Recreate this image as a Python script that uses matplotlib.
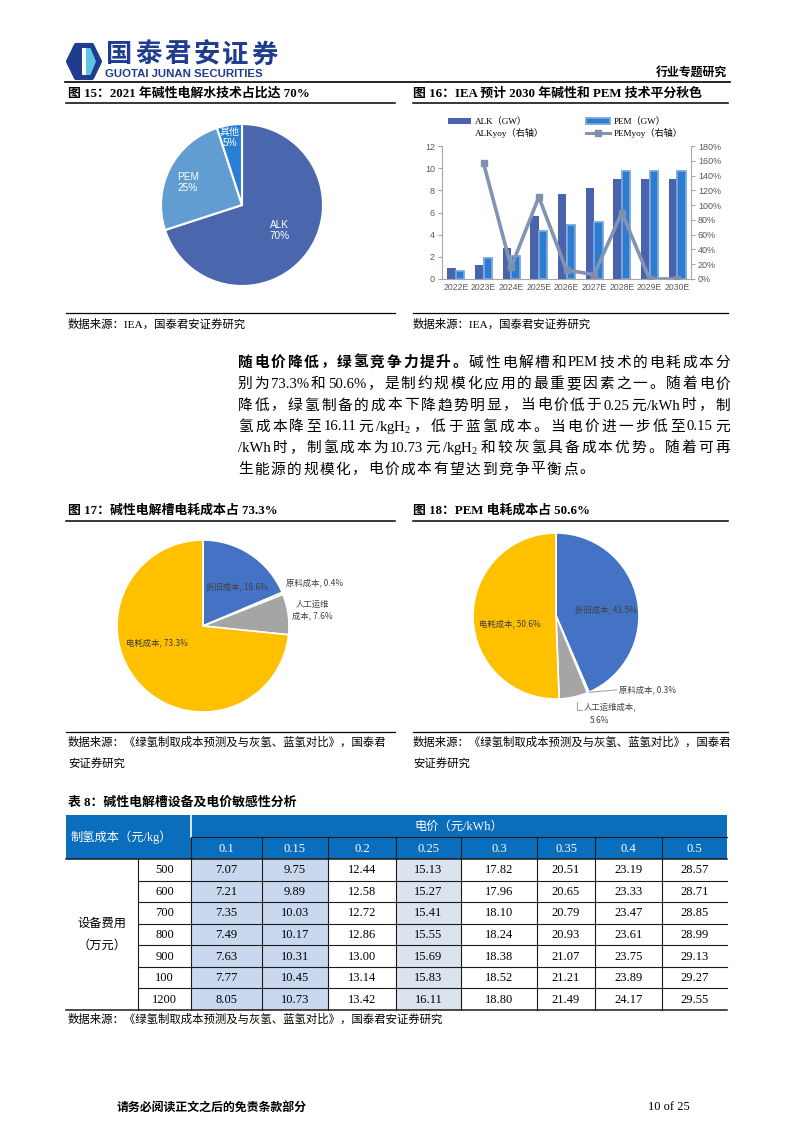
import re

import matplotlib
matplotlib.use("Agg")
import matplotlib.pyplot as plt
from matplotlib.patches import Rectangle, Polygon, Patch
from matplotlib.lines import Line2D
import numpy as np

W, H = 794, 1123

SERIF_CJK = ["Liberation Serif", "Noto Sans CJK SC"]
SANS_CJK = ["Liberation Sans", "Noto Sans CJK SC"]
CJK = ["Noto Sans CJK SC", "DejaVu Sans"]

plt.rcParams["font.family"] = SERIF_CJK
plt.rcParams["mathtext.fontset"] = "custom"
plt.rcParams["mathtext.rm"] = "Liberation Serif"
plt.rcParams["mathtext.it"] = "Liberation Serif:italic"

# ============================== Données

# Fig 15 : parts de technologie 2021
tech_labels = ["ALK", "PEM", "其他"]
tech_share = [70, 25, 5]
tech_colors = ["#4A66AC", "#629DD1", "#297FD5"]

# Fig 16 : prévisions IEA
years = ["2022E", "2023E", "2024E", "2025E", "2026E", "2027E", "2028E", "2029E", "2030E"]
alk_gw = [1.0, 1.3, 2.8, 5.65, 7.7, 8.2, 9.0, 9.0, 9.0]
pem_gw = [0.7, 1.85, 2.1, 4.35, 4.9, 5.15, 9.7, 9.7, 9.7]
pem_yoy = [np.nan, 157, 16, 111, 12, 6, 90, 0, 0]
left_ticks = [0, 2, 4, 6, 8, 10, 12]
right_ticks = [0, 20, 40, 60, 80, 100, 120, 140, 160, 180]

# Fig 17 / 18 : structure de coût
cost_colors = ["#4472C4", "#ED7D31", "#A5A5A5", "#FFC000"]
alk_cost = [18.6, 0.4, 7.6, 73.3]
pem_cost = [43.5, 0.3, 5.6, 50.6]

# Tableau 8
price_cols = ["0.1", "0.15", "0.2", "0.25", "0.3", "0.35", "0.4", "0.5"]
equip_rows = ["500", "600", "700", "800", "900", "100", "1200"]
h2_cost = [
    ["7.07", "9.75", "12.44", "15.13", "17.82", "20.51", "23.19", "28.57"],
    ["7.21", "9.89", "12.58", "15.27", "17.96", "20.65", "23.33", "28.71"],
    ["7.35", "10.03", "12.72", "15.41", "18.10", "20.79", "23.47", "28.85"],
    ["7.49", "10.17", "12.86", "15.55", "18.24", "20.93", "23.61", "28.99"],
    ["7.63", "10.31", "13.00", "15.69", "18.38", "21.07", "23.75", "29.13"],
    ["7.77", "10.45", "13.14", "15.83", "18.52", "21.21", "23.89", "29.27"],
    ["8.05", "10.73", "13.42", "16.11", "18.80", "21.49", "24.17", "29.55"],
]

paragraph = [
    [("随电价降低，绿氢竞争力提升。", True), ("碱性电解槽和 PEM 技术的电耗成本分", False)],
    [("别为 73.3%和 50.6%，是制约规模化应用的最重要因素之一。随着电价", False)],
    [("降低，绿氢制备的成本下降趋势明显，当电价低于 0.25 元/kWh 时，制", False)],
    [("氢成本降至 16.11 元/kgH$_2$，低于蓝氢成本。当电价进一步低至 0.15 元", False)],
    [("/kWh 时，制氢成本为 10.73 元/kgH$_2$ 和较灰氢具备成本优势。随着可再", False)],
    [("生能源的规模化，电价成本有望达到竞争平衡点。", False)],
]


def add_ax(x0, y0, x1, y1):
    """Axes placé en pixels (origine en haut à gauche)."""
    return fig.add_axes([x0 / W, 1 - y1 / H, (x1 - x0) / W, (y1 - y0) / H])


def pie_ax(cx, cy, r):
    ax = add_ax(cx - r, cy - r, cx + r, cy + r)
    ax.set_xlim(-1, 1)
    ax.set_ylim(-1, 1)
    ax.axis("off")
    return ax


fig = plt.figure(figsize=(W / 100, H / 100), dpi=100)
page = fig.add_axes([0, 0, 1, 1])
page.set_xlim(0, W)
page.set_ylim(H, 0)
page.axis("off")

# ============================== En-tête
page.add_patch(Polygon([(76, 45), (92, 45), (100, 61.5), (92, 78), (76, 78), (68, 61.5)],
                       closed=True, fc="#1F3C8E", ec="#1F3C8E", lw=3, joinstyle="round"))
page.add_patch(Polygon([(82, 48), (86, 48), (86, 75), (82, 75)], closed=True, fc="white", ec="none"))
page.add_patch(Polygon([(86, 48), (90.5, 48), (96, 61.5), (90.5, 75), (86, 75)],
                       closed=True, fc="#5EC3E0", ec="none"))
for i, ch in enumerate("国泰君安证券"):
    page.text(106 + i * 29, 55, ch, fontsize=19, family=CJK, weight="bold", color="#1F3C8E",
              va="center", ha="left")
page.text(105, 74, "GUOTAI JUNAN SECURITIES", fontsize=8.2, family=["Liberation Sans"], weight="bold",
          color="#1F3C8E", va="center")
page.text(727, 72, "行业专题研究", fontsize=8.6, family=CJK, weight="bold", ha="right", va="center")
page.plot([65, 730], [82, 82], color="black", lw=1.2)

# ============================== Titres des figures
titles = [
    (68, 94, "图 15：2021 年碱性电解水技术占比达 70%"),
    (413, 94, "图 16：IEA 预计 2030 年碱性和 PEM 技术平分秋色"),
    (68, 511, "图 17：碱性电解槽电耗成本占 73.3%"),
    (413, 511, "图 18：PEM 电耗成本占 50.6%"),
    (68, 803, "表 8：碱性电解槽设备及电价敏感性分析"),
]
for x, y, s in titles:
    page.text(x, y, s, fontsize=9.3, weight="bold", va="center")
for y in (103, 521):
    page.plot([66, 395], [y, y], color="black", lw=1.1)
    page.plot([413, 728], [y, y], color="black", lw=1.1)
for y in (313, 732):
    page.plot([66, 395], [y, y], color="black", lw=0.9)
    page.plot([413, 728], [y, y], color="black", lw=0.9)

src_iea = "数据来源：IEA，国泰君安证券研究"
src_book1 = "数据来源：《绿氢制取成本预测及与灰氢、蓝氢对比》，国泰君"
src_book2 = "安证券研究"
for x in (68, 413):
    page.text(x, 324, src_iea, fontsize=8.2, va="center")
    page.text(x, 742, src_book1, fontsize=8.2, va="center")
    page.text(x, 763, src_book2, fontsize=8.2, va="center")
page.text(68, 1019, "数据来源：《绿氢制取成本预测及与灰氢、蓝氢对比》，国泰君安证券研究", fontsize=8.2, va="center")

# ============================== Paragraphe justifié
TOKEN = re.compile(r"[A-Za-z0-9./%]+(?:\$_2\$)?|\S")
para_x0, para_x1 = 238, 730
para_y = [363, 384.5, 406, 427, 448.5, 470]
lines_tok = []
for y, parts in zip(para_y, paragraph):
    toks = []
    for s, bold in parts:
        for m in TOKEN.finditer(s):
            toks.append(page.text(0, y, m.group(), fontsize=10.6, weight="bold" if bold else "normal",
                                  va="center", ha="left"))
    lines_tok.append(toks)

# ============================== Fig 15 : camembert
ax = pie_ax(242, 205, 81)
ax.pie(tech_share, colors=tech_colors, startangle=90, counterclock=False,
       wedgeprops=dict(edgecolor="white", linewidth=1.5))
ax.set_xlim(-1, 1)
ax.set_ylim(-1, 1)
for lab, val, (tx, ty) in zip(tech_labels, tech_share, [(0.46, -0.31), (-0.67, 0.28), (-0.15, 0.83)]):
    ax.text(tx, ty, f"{lab}\n{val}%", color="white", fontsize=7.2, family=SANS_CJK,
            ha="center", va="center", linespacing=1.1)

# ============================== Fig 16 : barres + ligne
ax = add_ax(442, 146, 691, 279)
x = np.arange(len(years))
bw = 0.3
ax.bar(x - 0.16, alk_gw, width=bw, color="#4A63AE", zorder=2)
ax.bar(x + 0.16, pem_gw, width=bw, color="#2E7BCF", edgecolor="#74A9DE", linewidth=1.3, zorder=2)
ax.set_xlim(-0.5, len(years) - 0.5)
ax.set_ylim(0, 12)
ax.set_yticks(left_ticks)
ax.set_xticks(x)
ax.set_xticklabels(years)
for side in ("top", "right"):
    ax.spines[side].set_visible(False)
for side in ("left", "bottom"):
    ax.spines[side].set_color("#A6A6A6")
ax.tick_params(axis="y", labelsize=6.5, colors="#595959", length=3, color="#A6A6A6", pad=2)
ax.tick_params(axis="x", labelsize=6.2, colors="#595959", length=0, pad=3)
for t in ax.get_xticklabels() + ax.get_yticklabels():
    t.set_family(["Liberation Sans"])

ax2 = ax.twinx()
ax2.plot(x, pem_yoy, color="#8394B2", lw=2.6, marker="s", ms=5, mfc="#7F90AD", mec="#7F90AD", zorder=3)
ax2.set_ylim(0, 180)
ax2.set_yticks(right_ticks)
ax2.set_yticklabels([f"{v}%" for v in right_ticks])
for side in ("top", "left", "bottom"):
    ax2.spines[side].set_visible(False)
ax2.spines["right"].set_color("#A6A6A6")
ax2.tick_params(axis="y", labelsize=6.5, colors="#595959", length=3, color="#A6A6A6", pad=2)
for t in ax2.get_yticklabels():
    t.set_family(["Liberation Sans"])

handles = [
    Patch(facecolor="#4A63AE", label="ALK（GW）"),
    Line2D([], [], color="none", label="ALKyoy（右轴）"),
    Patch(facecolor="#2E7BCF", edgecolor="#74A9DE", linewidth=1.3, label="PEM（GW）"),
    Line2D([], [], color="#8394B2", lw=2.2, marker="s", ms=4, mfc="#7F90AD", mec="#7F90AD", label="PEMyoy（右轴）"),
]
ax.legend(handles=handles, ncol=2, loc="lower left", bbox_to_anchor=(0.0, 1.02), frameon=False,
          prop=dict(family=SERIF_CJK, size=6.6), handlelength=2.6, handleheight=0.6,
          labelspacing=0.15, columnspacing=4.6, handletextpad=0.4, borderpad=0.1)

# ============================== Fig 17 / 18 : structures de coût
lab_kw = dict(fontsize=6, family=CJK, color="#404040", ha="center", va="center")

ax = pie_ax(203, 626, 86)
ax.pie(alk_cost, colors=cost_colors, startangle=90, counterclock=False,
       wedgeprops=dict(edgecolor="white", linewidth=1.2))
ax.set_xlim(-1, 1)
ax.set_ylim(-1, 1)
ax.text(0.40, 0.45, f"折旧成本, {alk_cost[0]}%", **lab_kw)
ax.text(1.30, 0.50, f"原料成本, {alk_cost[1]}%", **lab_kw)
ax.text(1.27, 0.18, f"人工运维\n成本, {alk_cost[2]}%", linespacing=1.35, **lab_kw)
ax.text(-0.53, -0.20, f"电耗成本, {alk_cost[3]}%", **lab_kw)

ax = pie_ax(556, 616, 83)
ax.pie(pem_cost, colors=cost_colors, startangle=90, counterclock=False,
       wedgeprops=dict(edgecolor="white", linewidth=1.2))
ax.set_xlim(-1, 1)
ax.set_ylim(-1, 1)
ax.text(0.60, 0.08, f"折旧成本, {pem_cost[0]}%", **lab_kw)
ax.text(-0.56, -0.10, f"电耗成本, {pem_cost[3]}%", **lab_kw)
ax.plot([0.40, 0.73], [-0.92, -0.89], color="#A6A6A6", lw=0.8, clip_on=False)
ax.text(0.76, -0.89, f"原料成本, {pem_cost[1]}%", **{**lab_kw, "ha": "left"})
ax.plot([0.25, 0.25, 0.31], [-1.04, -1.13, -1.13], color="#A6A6A6", lw=0.8, clip_on=False)
ax.text(0.33, -1.09, "人工运维成本,", **{**lab_kw, "ha": "left"})
ax.text(0.53, -1.26, f"{pem_cost[2]}%", **lab_kw)

# ============================== Tableau 8
col_x = [191, 262, 328, 396, 461, 537, 595, 662, 727]
tbl_top, hdr_mid, hdr_bot = 815, 837, 859
row_h = (1010 - hdr_bot) / len(equip_rows)
blue = "#0A6EBD"
shade = {0: "#C9D8EF", 1: "#C9D8EF", 3: "#DBE3EF"}

page.add_patch(Rectangle((66, tbl_top), 727 - 66, hdr_bot - tbl_top, fc=blue, ec="none"))
for j, c in shade.items():
    page.add_patch(Rectangle((col_x[j], hdr_bot), col_x[j + 1] - col_x[j], 1010 - hdr_bot, fc=c, ec="none"))

line_kw = dict(color="#1A1A1A", lw=0.8)
page.plot([191, 727], [hdr_mid, hdr_mid], **line_kw)
page.plot([191, 191], [tbl_top, hdr_mid], color="white", lw=1.2)
for cx in col_x[:-1]:
    page.plot([cx, cx], [hdr_mid, hdr_bot], **line_kw)
page.plot([66, 727], [hdr_bot, hdr_bot], color="#1A1A1A", lw=1.1)
page.plot([66, 727], [1010, 1010], color="#1A1A1A", lw=1.1)
for i in range(1, len(equip_rows)):
    y = hdr_bot + i * row_h
    page.plot([138, 727], [y, y], **line_kw)
for cx in [138] + col_x[:-1]:
    page.plot([cx, cx], [hdr_bot, 1010], **line_kw)

page.text(121, (tbl_top + hdr_bot) / 2, "制氢成本（元/kg）", fontsize=8.8, color="white", ha="center", va="center")
page.text((191 + 727) / 2, (tbl_top + hdr_mid) / 2 + 1, "电价（元/kWh）", fontsize=8.8, color="white",
          ha="center", va="center")
for j, lab in enumerate(price_cols):
    page.text((col_x[j] + col_x[j + 1]) / 2, (hdr_mid + hdr_bot) / 2 + 1, lab, fontsize=9, color="white",
              ha="center", va="center")
page.text(102, 924, "设备费用", fontsize=8.8, ha="center", va="center")
page.text(102, 946, "（万元）", fontsize=8.8, ha="center", va="center")
for i, (eq, row) in enumerate(zip(equip_rows, h2_cost)):
    yc = hdr_bot + (i + 0.5) * row_h + 0.5
    page.text((138 + 191) / 2, yc, eq, fontsize=9, ha="center", va="center")
    for j, v in enumerate(row):
        page.text((col_x[j] + col_x[j + 1]) / 2, yc, v, fontsize=9, ha="center", va="center")

# ============================== Pied de page
page.text(117, 1107, "请务必阅读正文之后的免责条款部分", fontsize=8.6, family=CJK, weight="bold", va="center")
page.text(690, 1107, "10 of 25", fontsize=9, ha="right", va="center")

# justification du paragraphe (mesure après un premier rendu)
fig.canvas.draw()
renderer = fig.canvas.get_renderer()
for k, toks in enumerate(lines_tok):
    widths = [t.get_window_extent(renderer).width for t in toks]
    if k < len(lines_tok) - 1:
        gap = (para_x1 - para_x0 - sum(widths)) / (len(toks) - 1)
    else:
        gap = 1.5
    xpos = para_x0
    for t, w in zip(toks, widths):
        t.set_x(xpos)
        xpos += w + gap

fig.savefig("out.png", dpi=100)
